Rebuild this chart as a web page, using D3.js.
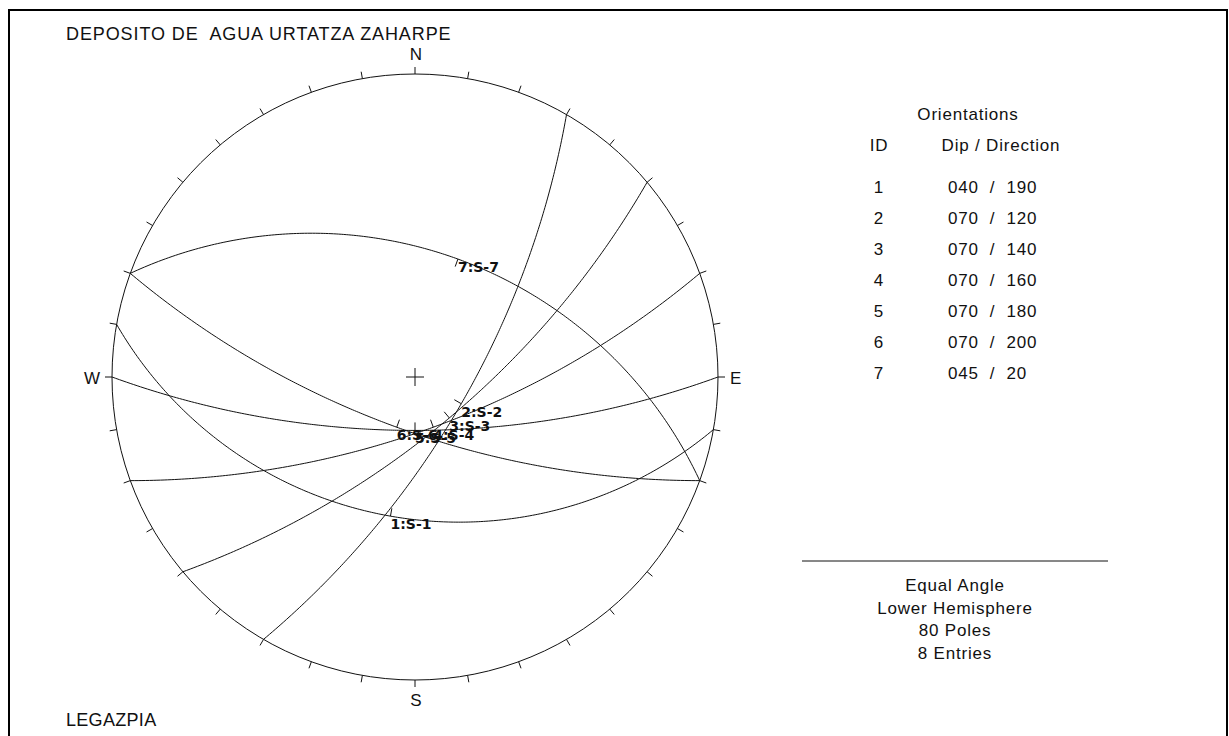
<!DOCTYPE html>
<html>
<head>
<meta charset="utf-8">
<script src="https://cdn.jsdelivr.net/npm/d3@7/dist/d3.min.js"></script>
<style>
  html, body { margin: 0; padding: 0; background: #fff; }
  svg { display: block; }
  text { font-family: "Liberation Sans", Arial, sans-serif; fill: #111; }
</style>
</head>
<body>
<svg id="chart" width="1229" height="736"></svg>
<script>
// Plane orientations (dip / dip direction, degrees)
const planeIds = [1, 2, 3, 4, 5, 6, 7];
const planeDips = [40, 70, 70, 70, 70, 70, 45];
const planeDipDirs = [190, 120, 140, 160, 180, 200, 20];

// Compass labels around the primitive circle
const compassLabels = ["N", "E", "S", "W"];

// Azimuth ticks on the primitive circle, every 10 degrees
const tickAzimuths = d3.range(0, 360, 10);

// Text blocks
const titleText = "DEPOSITO DE  AGUA URTATZA ZAHARPE";
const footerText = "LEGAZPIA";
const statLines = ["Equal Angle", "Lower Hemisphere", "80 Poles", "8 Entries"];

const svg = d3.select("#chart");

// Outer frame
svg.append("rect")
  .attr("x", 9).attr("y", 10)
  .attr("width", 1218).attr("height", 740)
  .attr("fill", "none").attr("stroke", "#000").attr("stroke-width", 2);

// Stereonet geometry
const cx = 415, cy = 377, R = 303;
const toRad = Math.PI / 180;

// Equal-angle (stereographic) radial scale: tan(half of angle from vertical) -> pixels
const rScale = d3.scaleLinear().domain([0, 1]).range([0, R]);
// Azimuth scale: degrees -> radians
const azScale = d3.scaleLinear().domain([0, 360]).range([0, 2 * Math.PI]);

function project(trend, plunge) {
  const r = rScale(Math.tan((90 - plunge) * toRad / 2));
  const a = azScale(trend);
  return [cx + r * Math.sin(a), cy - r * Math.cos(a)];
}

// Lower-hemisphere great circle for a plane: lines within the plane from strike to strike
function greatCircle(dip, dipDir, n) {
  const dd = dipDir * toRad, dp = dip * toRad;
  const s = [Math.sin(dd - Math.PI / 2), Math.cos(dd - Math.PI / 2), 0];
  const d = [Math.sin(dd) * Math.cos(dp), Math.cos(dd) * Math.cos(dp), Math.sin(dp)];
  return d3.range(n + 1).map(i => {
    const t = Math.PI * i / n;
    const v = [0, 1, 2].map(k => Math.cos(t) * s[k] + Math.sin(t) * d[k]);
    const trend = (Math.atan2(v[0], v[1]) / toRad + 360) % 360;
    const plunge = Math.asin(Math.max(-1, Math.min(1, v[2]))) / toRad;
    return project(trend, plunge);
  });
}

const g = svg.append("g");

// Primitive circle
g.append("circle")
  .attr("cx", cx).attr("cy", cy).attr("r", rScale(1))
  .attr("fill", "none").attr("stroke", "#111").attr("stroke-width", 1);

// Azimuth ticks (outward)
g.selectAll("line.tick").data(tickAzimuths).join("line")
  .attr("class", "tick")
  .attr("x1", a => cx + rScale(1) * Math.sin(azScale(a)))
  .attr("y1", a => cy - rScale(1) * Math.cos(azScale(a)))
  .attr("x2", a => cx + (rScale(1) + 7) * Math.sin(azScale(a)))
  .attr("y2", a => cy - (rScale(1) + 7) * Math.cos(azScale(a)))
  .attr("stroke", "#111").attr("stroke-width", 1);

// Centre cross
g.append("line").attr("x1", cx - 9).attr("x2", cx + 9).attr("y1", cy).attr("y2", cy)
  .attr("stroke", "#111").attr("stroke-width", 1);
g.append("line").attr("x1", cx).attr("x2", cx).attr("y1", cy - 9).attr("y2", cy + 9)
  .attr("stroke", "#111").attr("stroke-width", 1);

// Compass letters
const compassPos = {
  N: { x: cx + 1, y: 60, anchor: "middle" },
  E: { x: cx + rScale(1) + 12, y: cy + 7, anchor: "start" },
  S: { x: cx + 1, y: 706, anchor: "middle" },
  W: { x: cx - rScale(1) - 12, y: cy + 7, anchor: "end" }
};
g.selectAll("text.compass").data(compassLabels).join("text")
  .attr("class", "compass")
  .attr("x", c => compassPos[c].x)
  .attr("y", c => compassPos[c].y)
  .attr("text-anchor", c => compassPos[c].anchor)
  .style("font-size", "17px")
  .text(c => c);

// Great circles
const planes = planeIds.map((id, i) => ({ id, dip: planeDips[i], dir: planeDipDirs[i] }));
const line = d3.line();

g.selectAll("path.plane").data(planes).join("path")
  .attr("class", "plane")
  .attr("d", p => line(greatCircle(p.dip, p.dir, 240)))
  .attr("fill", "none").attr("stroke", "#111").attr("stroke-width", 1);

// Dip-direction ticks at the steepest point of each great circle
g.selectAll("line.dipTick").data(planes).join("line")
  .attr("class", "dipTick")
  .each(function (p) {
    const [x, y] = project(p.dir, p.dip);
    const a = azScale(p.dir);
    d3.select(this)
      .attr("x1", x).attr("y1", y)
      .attr("x2", x - 8 * Math.sin(a)).attr("y2", y + 8 * Math.cos(a));
  })
  .attr("stroke", "#111").attr("stroke-width", 1);

// Plane labels
g.selectAll("text.planeLabel").data(planes).join("text")
  .attr("class", "planeLabel")
  .attr("x", p => project(p.dir, p.dip)[0])
  .attr("y", p => project(p.dir, p.dip)[1] + 13)
  .style("font-family", "'DejaVu Sans', sans-serif")
  .style("font-weight", "bold")
  .style("font-size", "14px")
  .text(p => `${p.id}:S-${p.id}`);

// Title and footer
svg.append("text").attr("x", 66).attr("y", 40)
  .style("font-size", "18px").style("letter-spacing", "0.9px")
  .attr("xml:space", "preserve").style("white-space", "pre").text(titleText);
svg.append("text").attr("x", 66).attr("y", 726)
  .style("font-size", "18px").style("letter-spacing", "0.3px").text(footerText);

// Orientation table
const pad3 = v => String(v).padStart(3, "0");
const table = svg.append("g").style("font-size", "17px").style("letter-spacing", "0.8px");
table.append("text").attr("x", 968).attr("y", 120).attr("text-anchor", "middle").text("Orientations");
table.append("text").attr("x", 879).attr("y", 151).attr("text-anchor", "middle").text("ID");
table.append("text").attr("x", 1001).attr("y", 151).attr("text-anchor", "middle").text("Dip / Direction");

const rowY = d3.scalePoint().domain(planeIds).range([193, 379]);
table.selectAll("text.rowId").data(planes).join("text")
  .attr("class", "rowId")
  .attr("x", 879).attr("y", p => rowY(p.id)).attr("text-anchor", "middle")
  .text(p => p.id);
table.selectAll("text.rowVal").data(planes).join("text")
  .attr("class", "rowVal")
  .attr("x", 948).attr("y", p => rowY(p.id))
  .attr("xml:space", "preserve").style("white-space", "pre")
  .text(p => `${pad3(p.dip)}  /  ${p.dir}`);

// Projection summary
svg.append("line").attr("x1", 802).attr("x2", 1108).attr("y1", 561).attr("y2", 561)
  .attr("stroke", "#111").attr("stroke-width", 1);
svg.append("g").style("font-size", "17px").style("letter-spacing", "0.8px")
  .selectAll("text.stat").data(statLines).join("text")
  .attr("class", "stat")
  .attr("x", 955).attr("y", (d, i) => 591 + i * 22.5)
  .attr("text-anchor", "middle")
  .text(d => d);
</script>
</body>
</html>
